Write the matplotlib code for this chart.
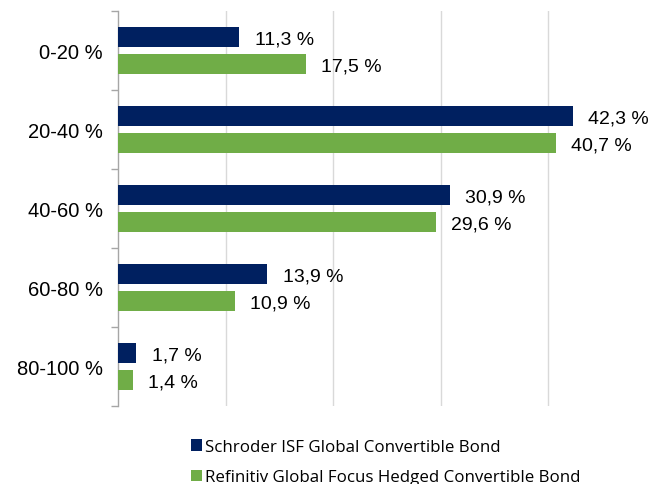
import matplotlib
matplotlib.use("Agg")
import matplotlib.pyplot as plt
import numpy as np
from matplotlib.patches import Patch

categories = ["0-20 %", "20-40 %", "40-60 %", "60-80 %", "80-100 %"]
schroder = [11.3, 42.3, 30.9, 13.9, 1.7]
refinitiv = [17.5, 40.7, 29.6, 10.9, 1.4]
series_names = ["Schroder ISF Global Convertible Bond",
                "Refinitiv Global Focus Hedged Convertible Bond"]
navy = "#002060"
green = "#70AD47"

W, H = 649, 485
fig = plt.figure(figsize=(W / 100, H / 100), dpi=100)
left, right, top, bottom = 118, 649, 12, 407
ax = fig.add_axes([left / W, 1 - bottom / H, (right - left) / W, (bottom - top) / H])

y = np.arange(len(categories))
bh = 0.255
off = 0.17
ax.barh(y - off, schroder, height=bh, color=navy, zorder=3)
ax.barh(y + off, refinitiv, height=bh, color=green, zorder=3)

ax.set_ylim(len(categories) - 0.5, -0.5)
ax.set_xlim(0, (right - left) / 10.75)

fs = 14
for i, (a, b) in enumerate(zip(schroder, refinitiv)):
    ax.annotate(f"{a:.1f} %".replace(".", ","), (a, i - off), xytext=(11, -1.5),
                textcoords="offset points", va="center", ha="left",
                fontsize=fs, family="Liberation Sans", color="#000000")
    ax.annotate(f"{b:.1f} %".replace(".", ","), (b, i + off), xytext=(11, -1.5),
                textcoords="offset points", va="center", ha="left",
                fontsize=fs, family="Liberation Sans", color="#000000")

ax.set_xticks(np.arange(10, 50, 10))
ax.tick_params(axis="x", length=0, labelbottom=False)
ax.grid(axis="x", color="#d9d9d9", linewidth=1, zorder=0)

ax.set_yticks(y)
ax.set_yticklabels(categories, fontsize=14.5, family="Liberation Sans")
ax.tick_params(axis="y", which="major", length=0, pad=11)
ax.set_yticks(np.arange(-0.5, len(categories), 1), minor=True)
ax.tick_params(axis="y", which="minor", length=5, color="#a6a6a6", width=1)

for s in ["top", "right", "bottom"]:
    ax.spines[s].set_visible(False)
ax.spines["left"].set_color("#a6a6a6")
ax.spines["left"].set_linewidth(1)

handles = [Patch(facecolor=navy), Patch(facecolor=green)]
leg = fig.legend(handles, series_names, loc="upper left",
                 bbox_to_anchor=(190.5 / W, 1 - 440 / H), frameon=False,
                 prop={"family": "Open Sans", "size": 12.2},
                 handlelength=0.65, handleheight=0.65, handletextpad=0.2,
                 labelspacing=0.84, borderpad=0, borderaxespad=0)

fig.savefig("out.png", dpi=100)
